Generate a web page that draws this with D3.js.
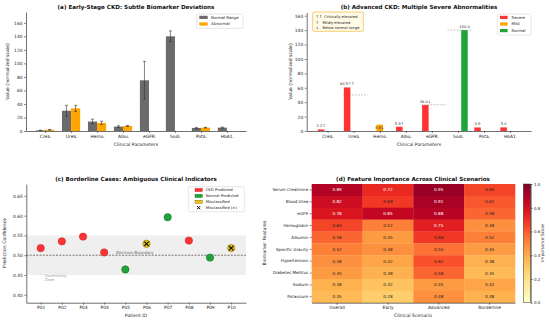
<!DOCTYPE html>
<html><head><meta charset="utf-8">
<script src="https://cdn.jsdelivr.net/npm/d3@7"></script>
<style>body{margin:0;background:#fff} svg{display:block;font-family:"DejaVu Sans",sans-serif}</style>
</head><body><svg id="c" width="550" height="322"></svg>
<script>
// ---------- DATA ----------
const params = ["Crea.","Urea.","Hemo.","Albu.","eGFR.","Sodi.","Pota.","HbA1."];
// (a) early stage
const earlyNormal    = [1.0, 30, 14, 6.5, 75, 140, 4.5, 5.0];
const earlyNormalErr = [0.2, 8, 3.5, 1.2, 28, 8, 0.8, 0.8];
const earlyAbn       = [1.8, 33.5, 12, 7.5, 0, 0, 5.0, 0];
const earlyAbnErr    = [0.4, 4.5, 2.5, 0.8, 0, 0, 0.5, 0];
const aTicks = [0,20,40,60,80,100,120,140,160];
// (b) advanced
const advSevere = [2.2, 60.5, 0, 5.9, 36.0, 0, 4.9, 5.0];
const advMild   = [0, 0, 8.8, 0, 0, 0, 0, 0];
const advNormal = [0, 0, 0, 0, 0, 140.0, 0, 0];
const advLabels = ["2.2↑","60.5↑↑","8.8↓","5.9↑","36.0↓","140.0","4.9","5.0"];
const advRef    = [null, 50, null, null, 36.5, 140, null, null];
const bTicks = [0,20,40,60,80,100,120,140,160];
const arrowNotes = ["↑↑  Critically elevated","↑   Mildly elevated","↓   Below normal range"];
// (c) borderline
const patients = ["P01","P02","P03","P04","P05","P06","P07","P08","P09","P10"];
const confidence = [0.518,0.535,0.547,0.507,0.464,0.529,0.596,0.537,0.494,0.518];
const outcome = ["ckd","ckd","ckd","ckd","normal","mis","normal","ckd","normal","mis"];
const cTicks = [0.40,0.45,0.50,0.55,0.60,0.65];
// (d) heatmap
const features = ["Serum Creatinine","Blood Urea","eGFR","Hemoglobin","Albumin","Specific Gravity","Hypertension","Diabetes Mellitus","Sodium","Potassium"];
const scenarios = ["Overall","Early","Advanced","Borderline"];
const importance = [
  [0.89,0.72,0.95,0.65],
  [0.82,0.68,0.91,0.61],
  [0.78,0.85,0.88,0.58],
  [0.65,0.52,0.75,0.48],
  [0.58,0.45,0.68,0.52],
  [0.52,0.48,0.55,0.45],
  [0.48,0.42,0.62,0.38],
  [0.45,0.38,0.58,0.35],
  [0.38,0.32,0.45,0.42],
  [0.35,0.28,0.48,0.38]
];
const cbTicks = [0.0,0.2,0.4,0.6,0.8,1.0];

// ---------- HELPERS ----------
const svg = d3.select("#c");
const FONT = "DejaVu Sans";
function styleAxis(g, fs){
  g.attr("font-family", FONT).attr("font-size", fs||4.4);
  g.selectAll("text").attr("fill","#222");
  g.select(".domain").attr("stroke","#333").attr("stroke-width",0.7);
  g.selectAll(".tick line").attr("stroke","#333").attr("stroke-width",0.6);
}
function text(x,y,s,o){
  o=o||{};
  const t = svg.append("text").attr("x",x).attr("y",y).text(s)
    .attr("font-family",FONT).attr("font-size",o.fs||4.6)
    .attr("fill",o.fill||"#222").attr("text-anchor",o.anchor||"middle");
  if(o.bold) t.attr("font-weight","bold");
  if(o.italic) t.attr("font-style","italic");
  if(o.rot) t.attr("transform",`rotate(${o.rot},${x},${y})`);
  return t;
}
const RED="#ff3333", ORANGE="#ffa500", GREEN="#22a33a", GRAY="#6b6b6b", GOLD="#f2c511";

// ---------- (a) ----------
{
  const x = d3.scaleLinear().domain([-0.735,7.735]).range([26,246]);
  const y = d3.scaleLinear().domain([0,176]).range([131,12]);
  const w = x(0.35)-x(0);
  const g = svg.append("g");
  params.forEach((p,i)=>{
    [[earlyNormal,earlyNormalErr,GRAY,-0.175],[earlyAbn,earlyAbnErr,ORANGE,0.175]].forEach(([vals,errs,col,off])=>{
      const v = vals[i]; if(!v) return;
      const cx = x(i+off);
      g.append("rect").attr("x",cx-w/2).attr("y",y(v)).attr("width",w).attr("height",y(0)-y(v)).attr("fill",col);
      const e = errs[i];
      if(e){
        g.append("line").attr("x1",cx).attr("x2",cx).attr("y1",y(v+e)).attr("y2",y(Math.max(0,v-e))).attr("stroke","#333").attr("stroke-width",0.6);
        [v+e, Math.max(0,v-e)].forEach(yy=>g.append("line").attr("x1",cx-1.5).attr("x2",cx+1.5).attr("y1",y(yy)).attr("y2",y(yy)).attr("stroke","#333").attr("stroke-width",0.6));
      }
    });
  });
  styleAxis(svg.append("g").attr("transform","translate(0,131)").call(d3.axisBottom(x).tickValues(d3.range(8)).tickFormat(i=>params[i]).tickSize(2).tickPadding(1.5).tickSizeOuter(0)));
  styleAxis(svg.append("g").attr("transform","translate(26,0)").call(d3.axisLeft(y).tickValues(aTicks).tickSize(2).tickPadding(1.5).tickSizeOuter(0)));
  text(136,9.2,"(a) Early-Stage CKD: Subtle Biomarker Deviations",{fs:5.6,bold:true,fill:"#111"});
  text(136,146,"Clinical Parameters",{fs:4.6});
  text(8.8,71.5,"Value (normalized scale)",{fs:4.6,rot:-90});
  // legend
  svg.append("rect").attr("x",196.7).attr("y",14).attr("width",46.3).attr("height",14.3).attr("rx",1).attr("fill","#fff").attr("stroke","#ccc").attr("stroke-width",0.5);
  [["Normal Range",GRAY],["Abnormal",ORANGE]].forEach(([l,c],k)=>{
    const cy = 17.4+k*6.6;
    svg.append("rect").attr("x",199.3).attr("y",cy-1.6).attr("width",8.4).attr("height",3.2).attr("fill",c);
    text(211,cy+1.4,l,{fs:3.9,anchor:"start"});
  });
}

// ---------- (b) ----------
{
  const x = d3.scaleLinear().domain([-0.8,7.8]).range([306.7,531]);
  const y = d3.scaleLinear().domain([0,164.5]).range([131,12.5]);
  const w = x(0.25)-x(0);
  const g = svg.append("g");
  params.forEach((p,i)=>{
    if(advRef[i]!=null){
      g.append("line").attr("x1",x(i-0.4)).attr("x2",x(i+0.55)).attr("y1",y(advRef[i])).attr("y2",y(advRef[i]))
        .attr("stroke","#999").attr("stroke-width",0.6).attr("stroke-dasharray","1.8,1.2");
    }
  });
  params.forEach((p,i)=>{
    [[advSevere,RED,-0.25,"s"],[advMild,ORANGE,0,"m"],[advNormal,GREEN,0.25,"n"]].forEach(([vals,col,off,kind])=>{
      const v = vals[i]; if(!v) return;
      const cx = x(i+off);
      g.append("rect").attr("x",cx-w/2).attr("y",y(v)).attr("width",w).attr("height",y(0)-y(v)).attr("fill",col);
      const ly = kind==="m" ? (y(v)+y(0))/2+1.3 : y(v)-2;
      text(cx,ly,advLabels[i],{fs:3.7,fill:"#333"});
    });
  });
  styleAxis(svg.append("g").attr("transform","translate(0,131)").call(d3.axisBottom(x).tickValues(d3.range(8)).tickFormat(i=>params[i]).tickSize(2).tickPadding(1.5).tickSizeOuter(0)));
  styleAxis(svg.append("g").attr("transform","translate(306.7,0)").call(d3.axisLeft(y).tickValues(bTicks).tickSize(2).tickPadding(1.5).tickSizeOuter(0)));
  text(419,9.2,"(b) Advanced CKD: Multiple Severe Abnormalities",{fs:5.6,bold:true,fill:"#111"});
  text(419,146,"Clinical Parameters",{fs:4.6});
  text(291.7,71.5,"Value (normalized scale)",{fs:4.6,rot:-90});
  // note box
  svg.append("rect").attr("x",312.7).attr("y",12).attr("width",50.6).attr("height",19.3).attr("rx",1.5).attr("fill","#fffbe6").attr("stroke","#f5b942").attr("stroke-width",0.7);
  arrowNotes.forEach((s,k)=>text(315.8,17.6+k*5.9,s,{fs:3.7,anchor:"start",fill:"#222"}).attr("xml:space","preserve").style("white-space","pre"));
  // legend
  svg.append("rect").attr("x",497.3).attr("y",14).attr("width",33.7).attr("height",21).attr("rx",1).attr("fill","#fff").attr("stroke","#ccc").attr("stroke-width",0.5);
  [["Severe",RED],["Mild",ORANGE],["Normal",GREEN]].forEach(([l,c],k)=>{
    const cy = 17.4+k*6.6;
    svg.append("rect").attr("x",500).attr("y",cy-1.6).attr("width",7.6).attr("height",3.2).attr("fill",c);
    text(511.5,cy+1.4,l,{fs:3.9,anchor:"start"});
  });
}

// ---------- (c) ----------
{
  const x = d3.scaleLinear().domain([-0.68,9.7]).range([26.3,246]);
  const y = d3.scaleLinear().domain([0.38,0.68]).range([302.7,184]);
  const g = svg.append("g");
  g.append("rect").attr("x",26.3).attr("y",y(0.55)).attr("width",246-26.3).attr("height",y(0.45)-y(0.55)).attr("fill","#efefef");
  g.append("line").attr("x1",26.3).attr("x2",246).attr("y1",y(0.5)).attr("y2",y(0.5)).attr("stroke","#555").attr("stroke-width",0.8).attr("stroke-dasharray","2,1.3");
  text(116,254.4,"Decision Boundary",{fs:4,anchor:"start",fill:"#666",italic:true});
  text(45,276.6,"Uncertainty",{fs:3.7,anchor:"start",fill:"#999"});
  text(45,281.4,"Zone",{fs:3.7,anchor:"start",fill:"#999"});
  const fillOf = {ckd:RED, normal:GREEN, mis:GOLD};
  const edgeOf = {ckd:"#b02020", normal:"#126a22", mis:"#6b5a10"};
  patients.forEach((p,i)=>{
    const cx=x(i), cy=y(confidence[i]);
    g.append("circle").attr("cx",cx).attr("cy",cy).attr("r",3.7).attr("fill",fillOf[outcome[i]]).attr("stroke",edgeOf[outcome[i]]).attr("stroke-width",0.5);
    if(outcome[i]==="mis"){
      const s=2.2;
      g.append("path").attr("d",`M${cx-s},${cy-s}L${cx+s},${cy+s}M${cx-s},${cy+s}L${cx+s},${cy-s}`).attr("stroke","#000").attr("stroke-width",1.1);
    }
  });
  styleAxis(svg.append("g").attr("transform","translate(0,302.7)").call(d3.axisBottom(x).tickValues(d3.range(10)).tickFormat(i=>patients[i]).tickSize(2).tickPadding(1.5).tickSizeOuter(0)));
  styleAxis(svg.append("g").attr("transform","translate(26.3,0)").call(d3.axisLeft(y).tickValues(cTicks).tickFormat(d3.format(".2f")).tickSize(2).tickPadding(1.5).tickSizeOuter(0)));
  text(136,181,"(c) Borderline Cases: Ambiguous Clinical Indicators",{fs:5.6,bold:true,fill:"#111"});
  text(136,317.4,"Patient ID",{fs:4.6});
  text(6,243,"Prediction Confidence",{fs:4.6,rot:-90});
  // legend
  svg.append("rect").attr("x",188.3).attr("y",186.7).attr("width",56).attr("height",25).attr("rx",1).attr("fill","#fff").attr("stroke","#ccc").attr("stroke-width",0.5);
  [["CKD Predicted",RED,"#b02020"],["Normal Predicted",GREEN,"#126a22"],["Misclassified",GOLD,"#6b5a10"],["Misclassified (×)",null,null]].forEach(([l,c,e],k)=>{
    const cy = 190+k*5.9;
    if(c){
      svg.append("rect").attr("x",195).attr("y",cy-1.6).attr("width",7.3).attr("height",3.2).attr("fill",c).attr("stroke",e).attr("stroke-width",0.4);
    } else {
      const cx=198.6, s=1.6;
      svg.append("path").attr("d",`M${cx-s},${cy-s}L${cx+s},${cy+s}M${cx-s},${cy+s}L${cx+s},${cy-s}`).attr("stroke","#000").attr("stroke-width",1);
    }
    text(205.7,cy+1.4,l,{fs:3.8,anchor:"start"});
  });
}

// ---------- (d) ----------
{
  const x = d3.scaleBand().domain(scenarios).range([311.7,515]);
  const y = d3.scaleBand().domain(features).range([184,302.7]);
  const color = d3.scaleSequential(d3.interpolateYlOrRd).domain([0,1]);
  const g = svg.append("g");
  features.forEach((f,r)=>scenarios.forEach((s,c)=>{
    const v = importance[r][c];
    g.append("rect").attr("x",x(s)).attr("y",y(f)).attr("width",x.bandwidth()+0.3).attr("height",y.bandwidth()+0.3).attr("fill",color(v));
    text(x(s)+x.bandwidth()/2,y(f)+y.bandwidth()/2+1.5,v.toFixed(2),{fs:4.2,fill:v>0.7?"#fff":"#222"});
  }));
  styleAxis(svg.append("g").attr("transform","translate(0,302.7)").call(d3.axisBottom(x).tickSize(2).tickPadding(1.5).tickSizeOuter(0)),4.4);
  const ya = svg.append("g").attr("transform","translate(311.7,0)").call(d3.axisLeft(y).tickSize(2).tickPadding(1.5).tickSizeOuter(0));
  styleAxis(ya,4.1);
  ya.select(".domain").remove();
  svg.selectAll(".domain").filter(function(){return false;});
  text(413,181,"(d) Feature Importance Across Clinical Scenarios",{fs:5.6,bold:true,fill:"#111"});
  text(413,317.4,"Clinical Scenario",{fs:4.6});
  text(266,243,"Biomarker Features",{fs:4.6,rot:-90});
  // colorbar
  const defs = svg.append("defs");
  const lg = defs.append("linearGradient").attr("id","cb").attr("x1",0).attr("y1",1).attr("x2",0).attr("y2",0);
  d3.range(0,1.0001,0.05).forEach(t=>lg.append("stop").attr("offset",t).attr("stop-color",color(t)));
  svg.append("rect").attr("x",523.3).attr("y",184).attr("width",7.4).attr("height",118.7).attr("fill","url(#cb)").attr("stroke","#333").attr("stroke-width",0.5);
  const cy = d3.scaleLinear().domain([0,1]).range([302.7,184]);
  styleAxis(svg.append("g").attr("transform","translate(530.7,0)").call(d3.axisRight(cy).tickValues(cbTicks).tickFormat(d3.format(".1f")).tickSize(2).tickPadding(1.2).tickSizeOuter(0)),4);
  text(544,243,"Importance Score",{fs:4.3,rot:-90});
}
</script></body></html>
